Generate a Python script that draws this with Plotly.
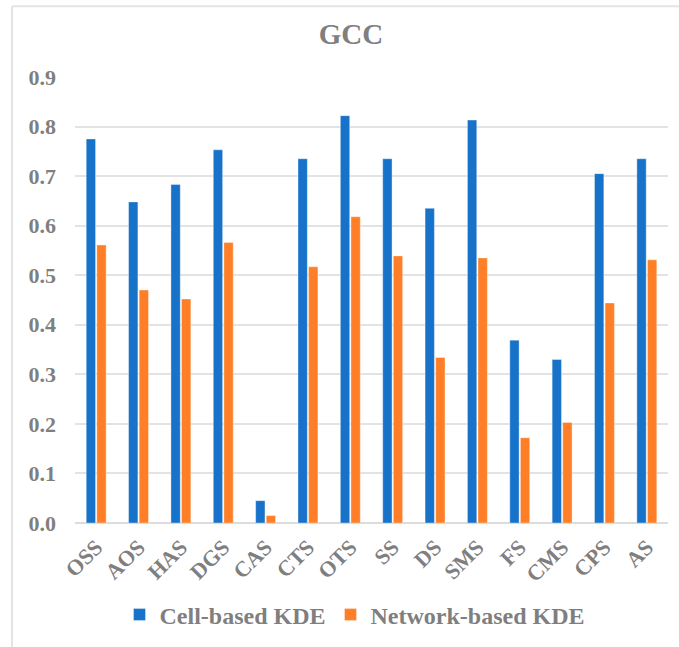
import plotly.graph_objects as go

# GCC scores per activity category for two KDE approaches
categories = ["OSS", "AOS", "HAS", "DGS", "CAS", "CTS", "OTS", "SS", "DS", "SMS", "FS", "CMS", "CPS", "AS"]
cell_kde = [0.775, 0.648, 0.683, 0.753, 0.045, 0.735, 0.822, 0.735, 0.635, 0.813, 0.369, 0.330, 0.705, 0.735]
network_kde = [0.561, 0.470, 0.452, 0.566, 0.015, 0.517, 0.618, 0.539, 0.334, 0.535, 0.172, 0.203, 0.444, 0.531]
y_ticks = [0.0, 0.1, 0.2, 0.3, 0.4, 0.5, 0.6, 0.7, 0.8, 0.9]

W, H = 679, 647
ML, MR, MT, MB = 75, 11, 77, 123
PW, PH = W - ML - MR, H - MT - MB

FONT = "Liberation Serif"
GRAY = "#7f7f7f"
BLUE = "#1772c9"
ORANGE = "#fe7f28"


def px_x(x):
    return (x - ML) / PW


def px_y(y):
    return (H - MB - y) / PH


fig = go.Figure()
fig.add_trace(go.Bar(
    name="<b>Cell-based KDE</b>", x=categories, y=cell_kde,
    marker=dict(color=BLUE, line=dict(color="rgba(255,255,255,0.45)", width=0.8)),
))
fig.add_trace(go.Bar(
    name="<b>Network-based KDE</b>", x=categories, y=network_kde,
    marker=dict(color=ORANGE, line=dict(color="rgba(255,255,255,0.45)", width=0.8)),
))

border = "#e4e4e4"
fig.add_shape(type="line", xref="paper", yref="paper",
              x0=px_x(12), x1=px_x(W + 5), y0=px_y(6), y1=px_y(6),
              line=dict(color=border, width=2))
fig.add_shape(type="line", xref="paper", yref="paper",
              x0=px_x(12), x1=px_x(12), y0=px_y(6), y1=px_y(H + 5),
              line=dict(color=border, width=2))

fig.update_layout(
    width=W, height=H,
    margin=dict(l=ML, r=MR, t=MT, b=MB),
    paper_bgcolor="white", plot_bgcolor="white",
    barmode="group", bargap=0.5, bargroupgap=0.12,
    title=dict(text="<b>GCC</b>", x=351 / W, xanchor="center",
               y=1 - 34 / H, yanchor="middle",
               font=dict(family=FONT, size=29, color=GRAY)),
    font=dict(family=FONT, color=GRAY),
    showlegend=True,
    legend=dict(orientation="h", x=px_x(355), xanchor="center",
                y=px_y(615), yanchor="middle",
                font=dict(family=FONT, size=24, color=GRAY),
                itemwidth=30, traceorder="normal"),
)
fig.update_xaxes(
    tickangle=-45, showgrid=False, ticks="", showline=False,
    tickfont=dict(family=FONT, size=22, color=GRAY),
    tickprefix="<b>", ticksuffix="</b>", ticklabelstandoff=6,
)
fig.update_yaxes(
    range=[0, 0.9], tickvals=y_ticks,
    ticktext=[f"<b>{v:.1f}</b>" for v in y_ticks],
    showgrid=True, gridcolor="#e3e3e3", gridwidth=1.5,
    zeroline=True, zerolinecolor="#dcdcdc", zerolinewidth=1.5,
    showline=False, ticks="", ticklabelstandoff=18,
    tickfont=dict(family=FONT, size=22, color=GRAY),
)

fig.write_html("out.html")
